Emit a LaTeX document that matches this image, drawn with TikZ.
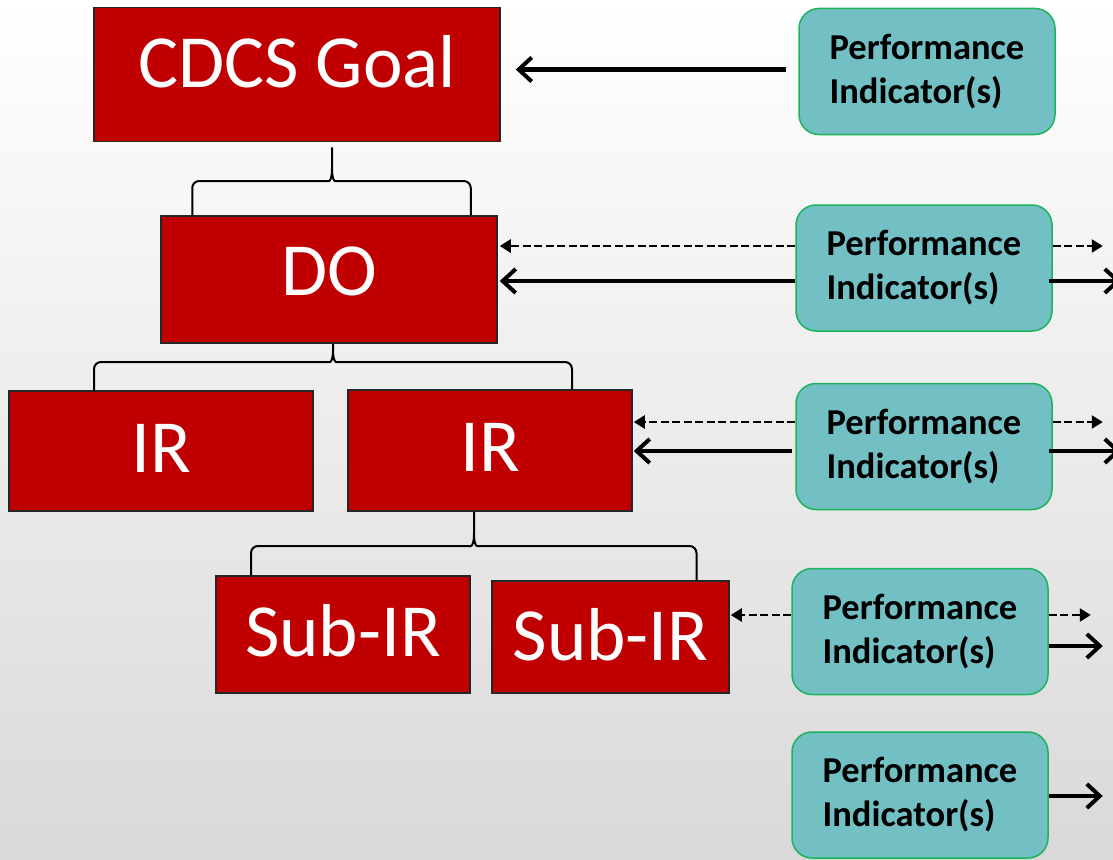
\documentclass[tikz,border=0pt]{standalone}
\usepackage{fontspec}
\setmainfont{Carlito}
\usetikzlibrary{arrows.meta,calc}

\definecolor{goalred}{HTML}{C00000}
\definecolor{pifill}{HTML}{72BFC4}
\definecolor{piedge}{HTML}{1DB35A}
\definecolor{bgbottom}{HTML}{D9D9D9}

\tikzset{
  redbox/.style={draw=black!85, line width=1.5pt, fill=goalred, text=white,
    inner sep=4pt, text height=49pt, font=\fontsize{75}{80}\selectfont},
  pibox/.style={draw=piedge, line width=1.5pt, fill=pifill, rounded corners=20pt,
    minimum width=256pt, minimum height=126pt, inner sep=4pt, align=left,
    font=\bfseries\fontsize{36.5}{44}\selectfont},
  bracebar/.style={black, line width=2pt},
  solidarrow/.style={black, line width=4pt, -{Straight Barb[length=13pt,width=24pt]}},
  dasharrow/.style={black, line width=2.5pt, dash pattern=on 8pt off 3.5pt,
    -{Triangle[length=11pt,width=13pt]}}
}

% #1 tip top, #2 left foot, #3 right foot, #4 height of the bar
\newcommand{\splitbrace}[4]{%
  \path (#1) coordinate (bt) (#2) coordinate (bl) (#3) coordinate (br) (0,#4) coordinate (bb);
  \draw[bracebar] (bl) [rounded corners=7pt] -- (bl |- bb)
    -- ($(bt |- bb)+(-10,0)$) [sharp corners]
    .. controls ($(bt |- bb)+(-2,0)$) and ($(bt |- bb)+(0,-3)$) .. ($(bt |- bb)+(0,-12)$) -- (bt);
  \draw[bracebar] (br) [rounded corners=7pt] -- (br |- bb)
    -- ($(bt |- bb)+(10,0)$) [sharp corners]
    .. controls ($(bt |- bb)+(2,0)$) and ($(bt |- bb)+(0,-3)$) .. ($(bt |- bb)+(0,-12)$);
}

\begin{document}
\begin{tikzpicture}[x=1pt,y=-1pt]
  \useasboundingbox (0,0) rectangle (1113,859);
  \shade[top color=white, bottom color=bgbottom] (0,0) rectangle (1113,859);
  \clip (0,0) rectangle (1113,859);

  % results framework
  \node[redbox, minimum width=406pt, minimum height=134pt, text depth=22pt] (goal) at (297,74.5) {CDCS Goal};
  \node[redbox, minimum width=336pt, minimum height=127pt, text depth=17pt] (do) at (329,279.5) {DO};
  \node[redbox, minimum width=304pt, minimum height=120pt, text depth=7pt] (irA) at (161,451) {IR};
  \node[redbox, minimum width=284pt, minimum height=121pt, text depth=7pt] (irB) at (490,450.5) {IR};
  \node[redbox, minimum width=254pt, minimum height=117pt, text depth=6pt] (subA) at (343,634.5) {Sub-IR};
  \node[redbox, minimum width=237pt, minimum height=112pt, text depth=2pt] (subB) at (610.5,637) {Sub-IR};

  \splitbrace{$(goal.south)+(35,5)$}{$(do.north west)+(32,0)$}{$(do.north east)+(-27,0)$}{181}
  \splitbrace{$(do.south)+(4,0)$}{$(irA.north)+(-67,0)$}{$(irB.north)+(82,0)$}{362}
  \splitbrace{$(irB.south)+(-16,0)$}{$(subA.north)+(-92,0)$}{$(subB.north)+(86,0)$}{546}

  % indicators
  \node[pibox] (pi1) at (927,71.5) {Performance\\Indicator(s)};
  \node[pibox] (pi2) at (924,268) {Performance\\Indicator(s)};
  \node[pibox] (pi3) at (924,446.5) {Performance\\Indicator(s)};
  \node[pibox] (pi4) at (920,631.5) {Performance\\Indicator(s)};
  \node[pibox] (pi5) at (920,795) {Performance\\Indicator(s)};

  \draw[solidarrow, shorten <=12pt, shorten >=15pt] ($(pi1.west)+(0,-2)$) -- ($(goal.east |- pi1.west)+(0,-2)$);

  \draw[dasharrow] ($(pi2.west)+(0,-22)$) -- ($(do.east |- pi2.west)+(2,-22)$);
  \draw[solidarrow] ($(pi2.west)+(0,13)$) -- ($(do.east |- pi2.west)+(2,13)$);
  \draw[dasharrow] ($(pi2.east)+(0,-22)$) -- ++(50,0);
  \draw[solidarrow] ($(pi2.east)+(-4,13)$) -- ++(72,0);

  \draw[dasharrow] ($(pi3.west)+(0,-24.5)$) -- ($(irB.east |- pi3.west)+(1,-24.5)$);
  \draw[solidarrow] ($(pi3.west)+(-3,4.5)$) -- ($(irB.east |- pi3.west)+(1,4.5)$);
  \draw[dasharrow] ($(pi3.east)+(0,-24.5)$) -- ++(50,0);
  \draw[solidarrow] ($(pi3.east)+(-4,4.5)$) -- ++(72,0);

  \draw[dasharrow] ($(pi4.west)+(0,-16.5)$) -- ($(subB.east |- pi4.west)+(1,-16.5)$);
  \draw[dasharrow] ($(pi4.east)+(0,-16.5)$) -- ++(42,0);
  \draw[solidarrow] ($(pi4.east)+(0,14.5)$) -- ++(54,0);

  \draw[solidarrow] ($(pi5.east)+(0,1)$) -- ++(54,0);
\end{tikzpicture}
\end{document}
